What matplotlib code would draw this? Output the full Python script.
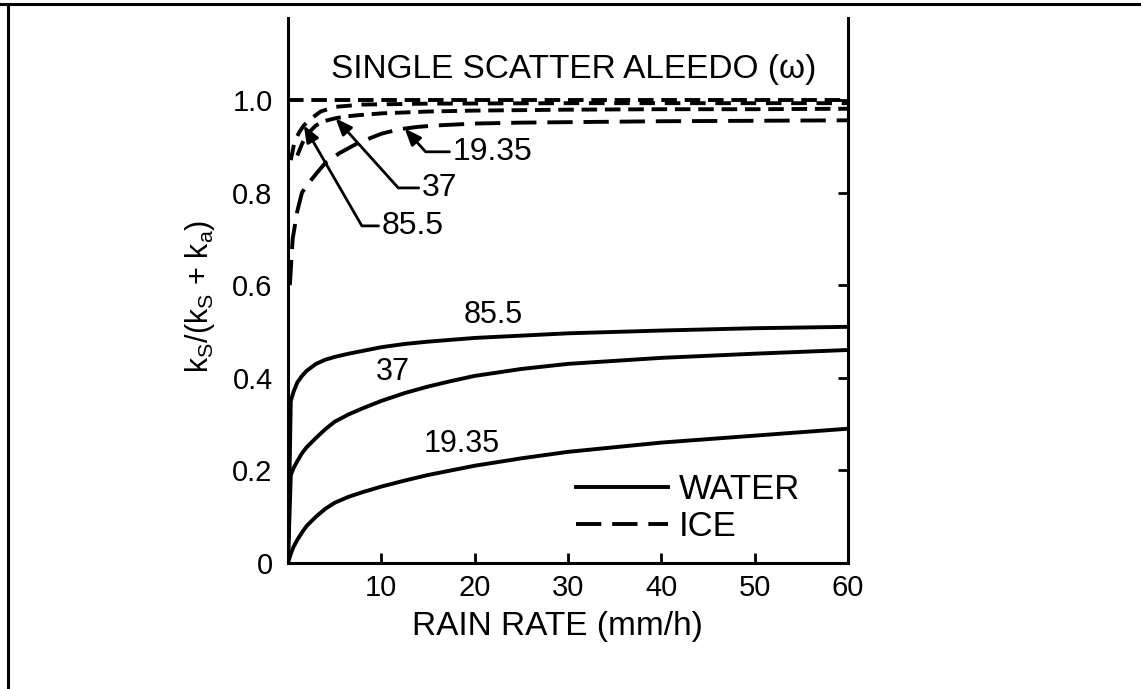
import matplotlib
matplotlib.use("Agg")
import matplotlib.pyplot as plt
import numpy as np

plt.rcParams['font.family'] = ['Liberation Sans', 'DejaVu Sans']
plt.rcParams['mathtext.default'] = 'regular'

# rain rate (mm/h) and single scatter albedo
x_water = [0, 0.3, 0.6, 1, 1.5, 2, 3, 4, 5, 6.5, 8, 10, 12.5, 15, 17.5, 20, 25, 30, 40, 50, 60]
water_19 = [0, 0.02, 0.035, 0.05, 0.066, 0.08, 0.10, 0.117, 0.13, 0.143, 0.153, 0.165,
            0.178, 0.19, 0.2, 0.21, 0.226, 0.24, 0.26, 0.275, 0.29]
water_37 = [0, 0.19, 0.205, 0.22, 0.237, 0.25, 0.27, 0.289, 0.305, 0.321, 0.334, 0.35,
            0.367, 0.381, 0.393, 0.404, 0.419, 0.43, 0.443, 0.452, 0.46]
water_85 = [0, 0.35, 0.37, 0.39, 0.404, 0.415, 0.43, 0.439, 0.445, 0.452, 0.458, 0.466,
            0.473, 0.478, 0.482, 0.486, 0.491, 0.496, 0.502, 0.507, 0.51]

x_ice19 = [0.2, 0.5, 1, 1.5, 2, 3, 4, 5.5, 7.5, 10, 12, 14, 16, 20, 25, 30, 40, 50, 60]
ice_19 = [0.6, 0.7, 0.76, 0.8, 0.815, 0.84, 0.864, 0.885, 0.907, 0.927, 0.937, 0.942,
          0.945, 0.949, 0.951, 0.952, 0.954, 0.955, 0.956]
x_ice37 = [1, 1.5, 2, 3, 4, 5, 6, 7.5, 10, 15, 20, 30, 40, 50, 60]
ice_37 = [0.88, 0.905, 0.925, 0.945, 0.955, 0.96, 0.964, 0.967, 0.971, 0.975, 0.977,
          0.979, 0.98, 0.98, 0.981]
x_ice85 = [0.3, 0.7, 1.2, 1.7, 2.5, 3.5, 5, 8, 15, 30, 60]
ice_85 = [0.87, 0.91, 0.93, 0.945, 0.96, 0.975, 0.985, 0.99, 0.992, 0.993, 0.993]
albedo_max = 1.0

xticks = [10, 20, 30, 40, 50, 60]
yticks = [0, 0.2, 0.4, 0.6, 0.8, 1.0]
ytick_labels = ["0", "0.2", "0.4", "0.6", "0.8", "1.0"]

# label text, x, y of the water curve labels
water_labels = [("85.5", 22, 0.535), ("37", 11.2, 0.413), ("19.35", 18.6, 0.257)]

fig = plt.figure(figsize=(11.41, 6.89), dpi=100)
ax = fig.add_axes([0.2524, 0.1829, 0.4908, 0.7910])

lw = 2.8
h_water, = ax.plot(x_water, water_19, color='k', lw=lw, label='WATER')
ax.plot(x_water, water_37, color='k', lw=lw)
ax.plot(x_water, water_85, color='k', lw=lw)

h_ice, = ax.plot(x_ice19, ice_19, color='k', lw=lw, dashes=(6.5, 2.8), label='ICE')
ax.plot(x_ice37, ice_37, color='k', lw=lw, dashes=(4, 2))
ax.plot(x_ice85, ice_85, color='k', lw=lw, dashes=(4, 2.5))
ax.axhline(albedo_max, color='k', lw=lw, dashes=(4, 2))

for lab, lx, ly in water_labels:
    ax.text(lx, ly, lab, fontsize=22, ha='center', va='center')

# ice labels with arrows: (label, curve x, curve y, arrow x, text x, text y, angle)
ice_notes = [
    ("19.35", x_ice19, ice_19, 12.5, 17.6, 0.888, 132),
    ("37", x_ice37, ice_37, 5.1, 14.3, 0.81, 132),
    ("85.5", x_ice85, ice_85, 1.7, 10.0, 0.728, 120),
]
for lab, xs, ys, tx, lx, ly, ang in ice_notes:
    ax.annotate(lab, xy=(tx, np.interp(tx, xs, ys)), xytext=(lx, ly),
                ha='left', va='center', fontsize=23,
                arrowprops=dict(arrowstyle='-|>,head_length=0.5,head_width=0.2',
                                connectionstyle=f'angle,angleA=0,angleB={ang},rad=0',
                                lw=2, color='k', relpos=(0, 0.5),
                                shrinkA=0, shrinkB=0, mutation_scale=20))

ax.text(0.51, 0.905, "SINGLE SCATTER ALEEDO (\u03c9)", transform=ax.transAxes,
        fontsize=24, ha='center', va='center')

ax.set_xlim(0, 60)
ax.set_ylim(0, 1.177)
ax.set_xticks(xticks)
ax.set_xticklabels([str(t) for t in xticks], fontsize=21)
ax.set_yticks(yticks)
ax.set_yticklabels(ytick_labels, fontsize=21)
ax.tick_params(axis='x', direction='in', length=7, width=2, pad=8, top=False)
ax.tick_params(axis='y', direction='in', length=7, width=2, pad=11,
               left=False, right=True, labelleft=True)

for side in ['left', 'right', 'bottom']:
    ax.spines[side].set_linewidth(2.2)
ax.spines['top'].set_visible(False)

ax.set_xlabel("RAIN RATE (mm/h)", fontsize=24)
ax.xaxis.set_label_coords(0.482, -0.116)
ax.xaxis.label.set_va('center')
ax.set_ylabel(r"k$_S$/(k$_S$ + k$_a$)", fontsize=22)
ax.yaxis.set_label_coords(-0.157, 0.49)
ax.yaxis.label.set_va('center')

ax.legend(handles=[h_water, h_ice], loc='upper left', bbox_to_anchor=(0.515, 0.165),
          frameon=False, fontsize=25, handlelength=2.65, handletextpad=0.3,
          labelspacing=0.12, borderpad=0, borderaxespad=0)

# outer frame of the scanned page
fig.add_artist(plt.Line2D([0, 1], [1 - 4 / 689] * 2, transform=fig.transFigure, color='k', lw=2.2))
fig.add_artist(plt.Line2D([8 / 1141] * 2, [0, 1 - 4 / 689], transform=fig.transFigure, color='k', lw=2.2))

fig.savefig("out.png", dpi=100)
